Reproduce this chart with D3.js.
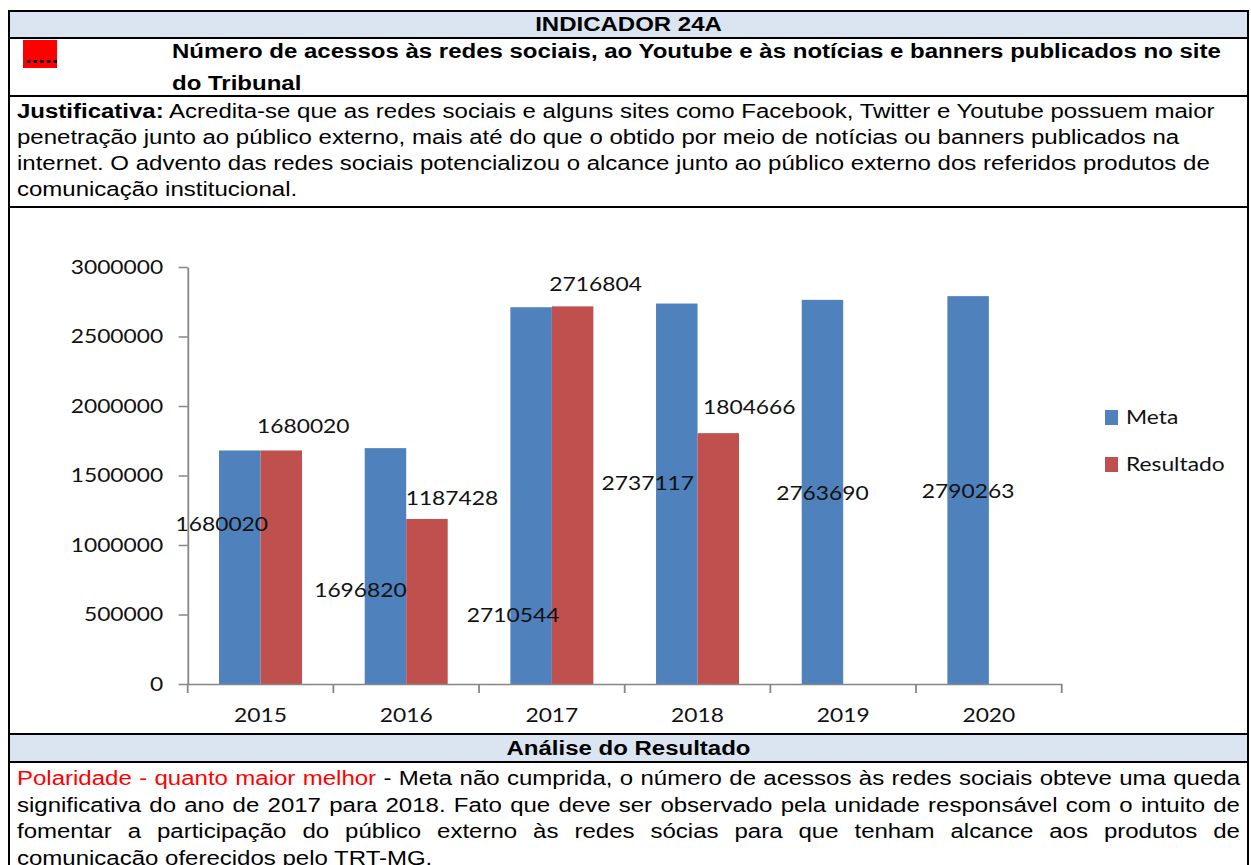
<!DOCTYPE html>
<html>
<head>
<meta charset="utf-8">
<title>Indicador 24A</title>
<style>
  body { margin: 0; background: #fff; overflow: hidden; }
  #page {
    position: absolute; left: 0; top: 0; height: 865px;
    transform-origin: 0 0; overflow: hidden;
    font-family: "Liberation Sans", Arial, sans-serif; font-size: 20px; color: #000;
  }
  .txt { position: absolute; white-space: nowrap; }
  .bold { font-weight: bold; }
  .chart text { font-family: Lato, "Open Sans", sans-serif; font-size: 19px; fill: #111; }
</style>
</head>
<body>
<div id="page"></div>

<script src="https://cdn.jsdelivr.net/npm/d3@7"></script>
<script>

    // the scanned page is stretched sideways, so x is drawn squeezed and scaled back
    var K = 1.2;
    function sx(v) { return v / K; }

    var years = ["2015", "2016", "2017", "2018", "2019", "2020"];
    var seriesNames = ["Meta", "Resultado"];
    var meta = [1680020, 1696820, 2710544, 2737117, 2763690, 2790263];
    var resultado = [1680020, 1187428, 2716804, 1804666, null, null];
    var yTicks = [0, 500000, 1000000, 1500000, 2000000, 2500000, 3000000];

    var titleLines = [
        "Número de acessos às redes sociais, ao Youtube e às notícias e banners publicados no site",
        "do Tribunal"
    ];
    var justLines = [
        "<b>Justificativa:</b> Acredita-se que as redes sociais e alguns sites como Facebook, Twitter e Youtube possuem maior",
        "penetração junto ao público externo, mais até do que o obtido por meio de notícias ou banners publicados na",
        "internet. O advento das redes sociais potencializou o alcance junto ao público externo dos referidos produtos de",
        "comunicação institucional."
    ];
    var analiseLines = [
        "<span style='color:#ff0000'>Polaridade - quanto maior melhor</span> - Meta não cumprida, o número de acessos às redes sociais obteve uma queda",
        "significativa do ano de 2017 para 2018. Fato que deve ser observado pela unidade responsável com o intuito de",
        "fomentar a participação do público externo às redes sócias para que tenham alcance aos produtos de",
        "comunicação oferecidos pelo TRT-MG."
    ];

    // hand-dragged label offsets from the original (screen px)
    // meta: from the middle of the bar, resultado: from the top of the bar
    var metaNudge = [[-18, -43], [-25, 24], [-18, 120], [-29, -10], [0, 1], [0, 1]];
    var resNudge = [[22, -24], [25, -21], [23, -22], [31, -26], [0, 0], [0, 0]];

    var blue = "#4f81bd", red = "#c0504d", axisGrey = "#868686", headFill = "#dbe5f1";

    var page = d3.select("#page")
        .style("width", sx(1251) + "px")
        .style("transform", "scaleX(" + K + ")");

    var svg = page.append("svg")
        .attr("width", sx(1251))
        .attr("height", 865)
        .style("position", "absolute")
        .style("left", 0).style("top", 0);

    // table fills and rules
    svg.append("rect").attr("x", sx(9)).attr("y", 11).attr("width", sx(1239)).attr("height", 27).attr("fill", headFill);
    svg.append("rect").attr("x", sx(9)).attr("y", 734).attr("width", sx(1239)).attr("height", 28).attr("fill", headFill);

    [11, 38, 96, 207, 734, 762].forEach(function(yy) {
        svg.append("line")
            .attr("x1", sx(8)).attr("x2", sx(1249))
            .attr("y1", yy).attr("y2", yy)
            .attr("stroke", "#000").attr("stroke-width", 2);
    });
    [9, 1248].forEach(function(xx) {
        svg.append("line")
            .attr("x1", sx(xx)).attr("x2", sx(xx))
            .attr("y1", 10).attr("y2", 866)
            .attr("stroke", "#000").attr("stroke-width", 2 / K);
    });

    // red marker box
    svg.append("rect").attr("x", sx(23)).attr("y", 40).attr("width", sx(34)).attr("height", 28).attr("fill", "#ff0000");
    svg.append("text").attr("x", sx(25)).attr("y", 63)
        .attr("font-family", "Liberation Sans, Arial, sans-serif").attr("font-weight", "bold").attr("font-size", 20)
        .text(".....");

    // text rows
    page.append("div").attr("class", "txt bold")
        .style("left", sx(9) + "px").style("width", sx(1239) + "px")
        .style("top", "11px").style("line-height", "27px").style("text-align", "center")
        .text("INDICADOR 24A");

    page.append("div").attr("class", "txt bold")
        .style("left", sx(172) + "px").style("top", "35px").style("line-height", "32px")
        .html(titleLines.join("<br>"));

    page.append("div").attr("class", "txt")
        .style("left", sx(17) + "px").style("top", "98px").style("line-height", "26px")
        .html(justLines.join("<br>"));

    page.append("div").attr("class", "txt bold")
        .style("left", sx(9) + "px").style("width", sx(1239) + "px")
        .style("top", "734px").style("line-height", "28px").style("text-align", "center")
        .text("Análise do Resultado");

    // justified paragraph: stretch the word gaps by hand
    analiseLines.forEach(function(l, i) {
        var d = page.append("div").attr("class", "txt")
            .style("left", sx(17) + "px").style("top", (765 + i * 26.5) + "px")
            .style("line-height", "26px")
            .html(l);
        if (i < analiseLines.length - 1) {
            var w = d.node().getBoundingClientRect().width / K;
            var gaps = d.node().textContent.split(" ").length - 1;
            d.style("word-spacing", ((sx(1223) - w) / gaps) + "px");
        }
    });

    // chart
    var chart = svg.append("g").attr("class", "chart");

    var y = d3.scaleLinear().domain([0, 3000000]).range([684, 267]);
    var x0 = d3.scaleBand().domain(years).range([sx(187.7), sx(1061.7)]);
    var x1 = d3.scaleBand().domain(seriesNames).range([0, x0.bandwidth()]).paddingOuter(0.755);

    var rows = years.map(function(yr, i) {
        return { year: yr, i: i, values: [
            { key: "Meta", v: meta[i] },
            { key: "Resultado", v: resultado[i] }
        ]};
    });

    var groups = chart.selectAll(".year")
        .data(rows)
        .enter().append("g")
        .attr("class", "year")
        .attr("transform", function(d) { return "translate(" + x0(d.year) + ",0)"; });

    groups.selectAll("rect")
        .data(function(d) { return d.values.filter(function(v) { return v.v != null; }); })
        .enter().append("rect")
        .attr("x", function(d) { return x1(d.key); })
        .attr("width", x1.bandwidth())
        .attr("y", function(d) { return y(d.v); })
        .attr("height", function(d) { return y(0) - y(d.v); })
        .attr("fill", function(d) { return d.key === "Meta" ? blue : red; });

    var yAxis = d3.axisLeft(y)
        .tickValues(yTicks)
        .tickSize(sx(9))
        .tickSizeOuter(0)
        .tickPadding(sx(15.5))
        .tickFormat(d3.format("d"));

    var gy = chart.append("g")
        .attr("transform", "translate(" + sx(187.7) + ",0)")
        .call(yAxis);

    var xAxis = d3.axisBottom(x0).tickSize(0).tickSizeOuter(0).tickPadding(25);
    var gx = chart.append("g")
        .attr("transform", "translate(0,684)")
        .call(xAxis);

    // excel puts the ticks between categories
    gx.selectAll(".bound")
        .data(d3.range(years.length + 1))
        .enter().append("line")
        .attr("class", "bound")
        .attr("x1", function(i) { return sx(187.7) + i * x0.step(); })
        .attr("x2", function(i) { return sx(187.7) + i * x0.step(); })
        .attr("y1", 0).attr("y2", 9)
        .attr("stroke", axisGrey).attr("stroke-width", 1.5);

    [gx, gy].forEach(function(g) {
        g.select(".domain").attr("stroke", axisGrey).attr("stroke-width", 1.5);
        g.selectAll(".tick line").attr("stroke", axisGrey).attr("stroke-width", 1.5);
        g.selectAll("text").attr("fill", "#111").attr("font-family", null).attr("font-size", null);
    });

    // data labels
    rows.forEach(function(d) {
        var i = d.i;
        var cxM = x0(d.year) + x1("Meta") + x1.bandwidth() / 2;
        chart.append("text")
            .attr("x", cxM + sx(metaNudge[i][0]))
            .attr("y", (y(meta[i]) + y(0)) / 2 + metaNudge[i][1])
            .attr("dy", "0.35em")
            .attr("text-anchor", "middle")
            .text(meta[i]);

        if (resultado[i] != null) {
            var cxR = x0(d.year) + x1("Resultado") + x1.bandwidth() / 2;
            chart.append("text")
                .attr("x", cxR + sx(resNudge[i][0]))
                .attr("y", y(resultado[i]) + resNudge[i][1])
                .attr("dy", "0.35em")
                .attr("text-anchor", "middle")
                .text(resultado[i]);
        }
    });

    // legend
    var legend = chart.append("g");
    seriesNames.forEach(function(name, i) {
        var row = legend.append("g")
            .attr("transform", "translate(" + sx(1105) + "," + (410 + i * 47) + ")");
        row.append("rect")
            .attr("width", sx(13)).attr("height", 15)
            .attr("fill", name === "Meta" ? blue : red);
        row.append("text")
            .attr("x", sx(21)).attr("y", 7.5).attr("dy", "0.35em")
            .text(name);
    });

</script>
</body>
</html>
